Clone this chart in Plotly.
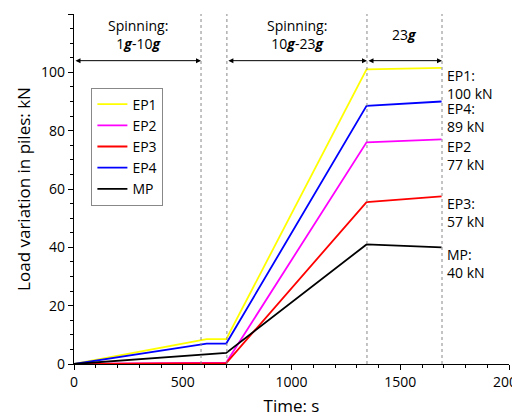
import plotly.graph_objects as go

t = [0, 610, 700, 1345, 1690]
ep1 = [0, 8.5, 8.5, 101, 101.5]
ep2 = [0, 0.5, 0.5, 76, 77]
ep3 = [0, 0.3, 0.3, 55.5, 57.5]
ep4 = [0, 7, 7, 88.5, 90]
mp = [0, 3.5, 3.8, 41, 40]
names = ["EP1", "EP2", "EP3", "EP4", "MP"]
colors = ["#ffff00", "#ff00ff", "#ff0000", "#0000ff", "#000000"]
stage_x = [584, 703, 1347, 1692]
end_labels = [(101.5, "EP1:<br>100 kN"), (90, "EP4:<br>89 kN"), (77, "EP2<br>77 kN"),
              (57.5, "EP3:<br>57 kN"), (40, "MP:<br>40 kN")]

fig = go.Figure()
for n, y, c in zip(names, [ep1, ep2, ep3, ep4, mp], colors):
    fig.add_trace(go.Scatter(x=t, y=y, name=n, mode="lines", line=dict(color=c, width=1.8)))

for x in stage_x:
    fig.add_vline(x=x, line=dict(color="#888", width=1, dash="dot"))

arrow_y = 104
for x0, x1 in [(0, stage_x[0]), (stage_x[1], stage_x[2]), (stage_x[2], stage_x[3])]:
    fig.add_annotation(x=x1, y=arrow_y, ax=x0, ay=arrow_y, xref="x", yref="y", axref="x", ayref="y",
                       text="", showarrow=True, arrowhead=2, arrowsize=1, arrowwidth=1, arrowcolor="black",
                       startarrowhead=2, arrowside="end+start")
fig.add_annotation(x=292, y=106, text="Spinning:<br>1<b><i>g</i></b>-10<b><i>g</i></b>", showarrow=False,
                   yanchor="bottom", font=dict(size=14))
fig.add_annotation(x=1025, y=106, text="Spinning:<br>10<b><i>g</i></b>-23<b><i>g</i></b>", showarrow=False,
                   yanchor="bottom", font=dict(size=14))
fig.add_annotation(x=1520, y=109, text="23<b><i>g</i></b>", showarrow=False, yanchor="bottom", font=dict(size=14))
for y, s in end_labels:
    fig.add_annotation(x=1705, y=y + 1.5, text=s, showarrow=False, xanchor="left", yanchor="top",
                       align="left", font=dict(size=14))

axis = dict(showline=True, linecolor="black", linewidth=1.2, ticks="outside", ticklen=5, tickcolor="black",
            showgrid=False, zeroline=False, mirror=False, automargin=False,
            minor=dict(ticks="outside", ticklen=3, tickcolor="black"))
fig.update_xaxes(range=[0, 2000], dtick=500, title=dict(text="Time: s", standoff=10), **axis)
fig.update_yaxes(range=[0, 120], dtick=20, title=dict(text="Load variation in piles: kN", standoff=6), **axis)
fig.update_layout(width=520, height=414, plot_bgcolor="white", paper_bgcolor="white",
                  font=dict(family="Open Sans", size=14, color="black"),
                  margin=dict(l=66, r=19, t=6, b=58),
                  legend=dict(x=0.04, y=0.79, xanchor="left", yanchor="top", bordercolor="#888", borderwidth=1,
                              bgcolor="white", font=dict(size=14), tracegroupgap=0))
fig.write_html("out.html")
